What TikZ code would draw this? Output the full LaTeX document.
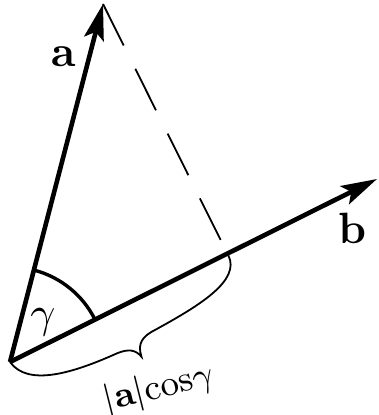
\documentclass[tikz,border=0pt]{standalone}
\usepackage{amsmath,amssymb,bm}
\usepackage{tikz}
\usetikzlibrary{arrows.meta, positioning}
\usetikzlibrary{calc}

\begin{document}
\begin{tikzpicture}[x=0.25pt,y=0.25pt,
            vec/.style={line width=1.15pt,-{Stealth[length=9pt,width=5pt,inset=1.8pt]}},
            proj/.style={line width=0.45pt,dash pattern=on 11.6pt off 6.5pt},
            lbl/.style={font=\fontsize{11}{13}\selectfont,inner sep=0pt}]
            \useasboundingbox (-10,-53) rectangle (368,362);
            \coordinate (O) at (0,0);
            \coordinate (A) at (93,358);
            \coordinate (B) at (367,183);
            \coordinate (F) at ($(O)!(A)!(B)$);
            \draw[vec] (O) -- (A);
            \draw[vec] (O) -- (B);
            \draw[proj] (A) -- (F);
            \draw[line width=0.85pt] (O) ++(26.5:95) arc[start angle=26.5,end angle=75.5,radius=95];
            % brace under the projection
            \begin{scope}[shift={(O)},rotate=26.5]
            \draw[line width=0.45pt] (0,0) .. controls (5,-30) and (50,-38) .. (100,-40) .. controls (112,-41) and (118,-45) .. (120,-54) .. controls (122,-40) and (130,-36) .. (145,-36) .. controls (195,-34) and (243,-30) .. (243,-2);
            \end{scope}
            \node[lbl](la) at (53,305) {$\mathbf{a}$};
            \node[lbl](lb) at (342,134) {$\mathbf{b}$};
            \node[lbl](lg) at (33,40) {$\gamma$};
            \node[lbl,font=\fontsize{9.5}{11}\selectfont,rotate=14](lp) at (149,-27) {$|\mathbf{a}|\mathrm{cos}\gamma$};
\end{tikzpicture}
\end{document}
